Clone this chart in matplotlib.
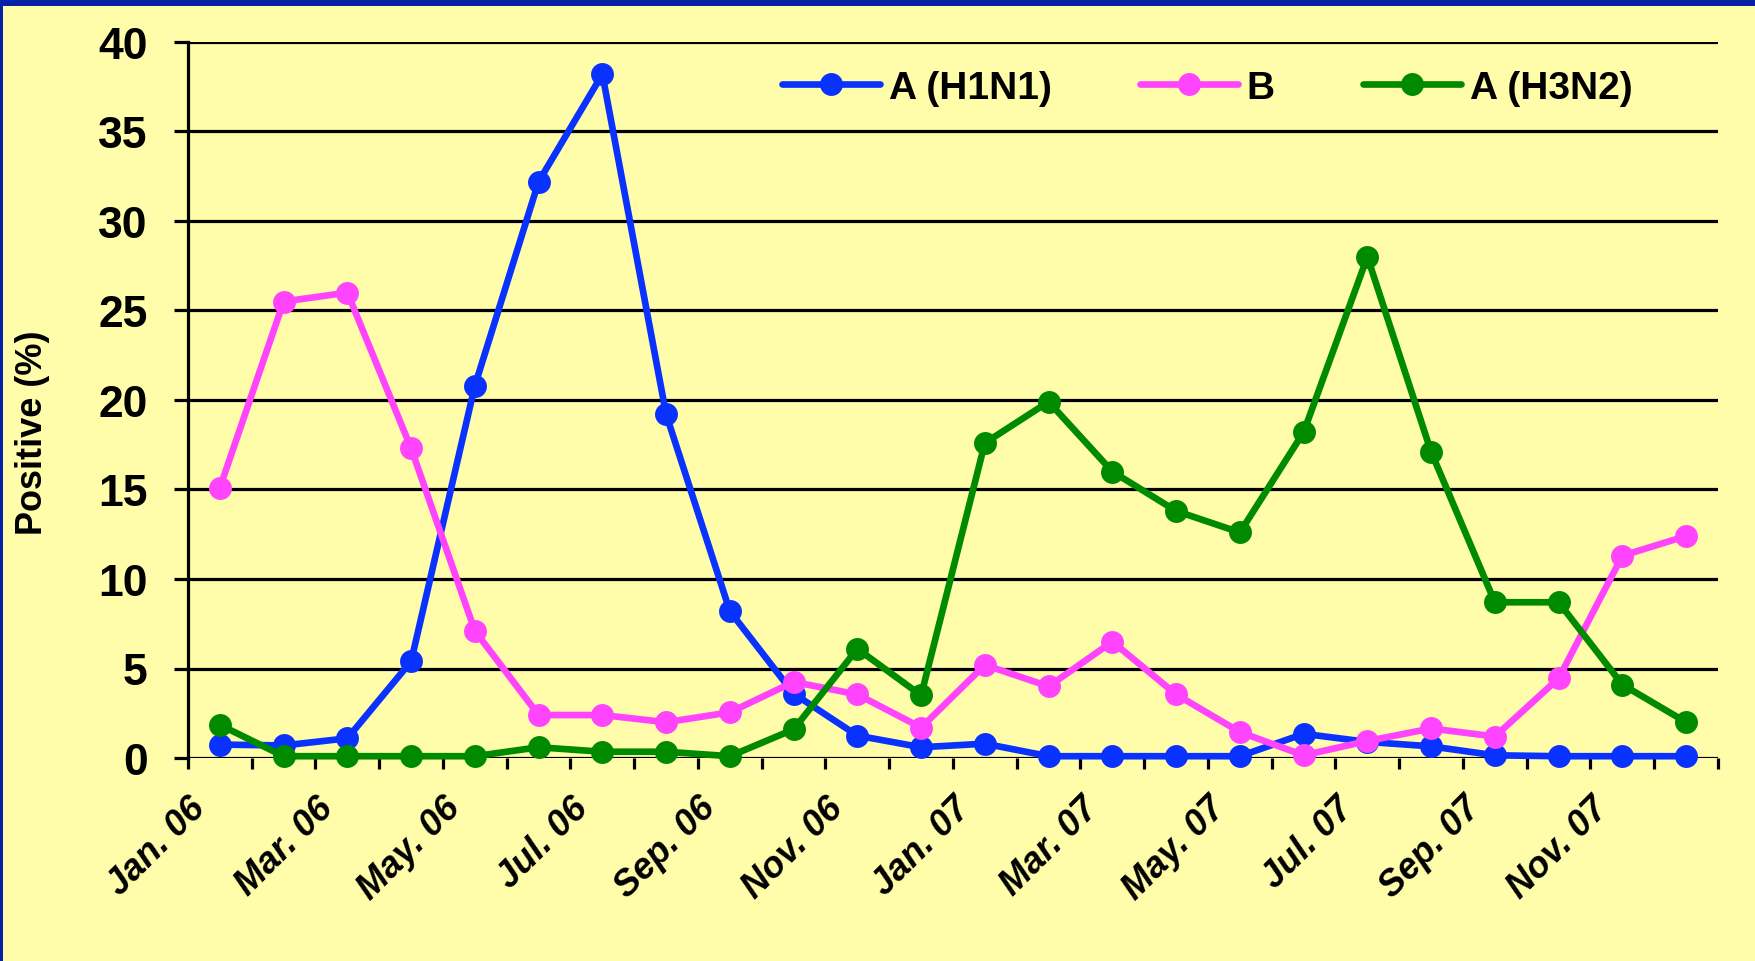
import matplotlib
matplotlib.use("Agg")
import matplotlib.pyplot as plt
from matplotlib.patches import Rectangle
import numpy as np

plt.rcParams['font.family'] = ['Liberation Sans', 'DejaVu Sans']

months = ["Jan. 06", "Feb. 06", "Mar. 06", "Apr. 06", "May. 06", "Jun. 06",
          "Jul. 06", "Aug. 06", "Sep. 06", "Oct. 06", "Nov. 06", "Dec. 06",
          "Jan. 07", "Feb. 07", "Mar. 07", "Apr. 07", "May. 07", "Jun. 07",
          "Jul. 07", "Aug. 07", "Sep. 07", "Oct. 07", "Nov. 07", "Dec. 07"]

h1n1 = [0.75, 0.7, 1.1, 5.4, 20.8, 32.2, 38.2, 19.2, 8.2, 3.6, 1.25, 0.6,
        0.8, 0.1, 0.1, 0.1, 0.1, 1.35, 0.9, 0.65, 0.15, 0.1, 0.1, 0.1]
b = [15.1, 25.5, 26.0, 17.3, 7.1, 2.4, 2.4, 2.0, 2.55, 4.25, 3.55, 1.7,
     5.2, 4.0, 6.5, 3.55, 1.45, 0.15, 0.95, 1.65, 1.2, 4.45, 11.3, 12.4]
h3n2 = [1.85, 0.1, 0.1, 0.1, 0.1, 0.6, 0.35, 0.35, 0.1, 1.6, 6.1, 3.5,
        17.6, 19.9, 16.0, 13.8, 12.6, 18.2, 28.0, 17.1, 8.7, 8.7, 4.1, 2.0]

series_names = ["A (H1N1)", "B", "A (H3N2)"]
series_colors = ["#0A32FF", "#FF44FF", "#008A00"]

yticks = [0, 5, 10, 15, 20, 25, 30, 35, 40]

W, H = 1756, 962
fig = plt.figure(figsize=(W / 100, H / 100), dpi=100)
bg = "#FFFCAA"
fig.patch.set_facecolor(bg)

# border bands
fig.patches.append(Rectangle((0, 1 - 7 / H), 1, 7 / H, transform=fig.transFigure,
                             facecolor="#0620A8", edgecolor="none", zorder=0))
fig.patches.append(Rectangle((0, 0), 2.5 / W, 1, transform=fig.transFigure,
                             facecolor="#0620A8", edgecolor="none", zorder=0))

left, right, top, bottom = 188, 1718, 43, 759
ax = fig.add_axes([left / W, 1 - bottom / H, (right - left) / W, (bottom - top) / H])
ax.set_facecolor(bg)

x = np.arange(len(months)) + 0.5
handles = []
for vals, name, col in zip([h1n1, b, h3n2], series_names, series_colors):
    ln, = ax.plot(x, vals, color=col, lw=4.8, marker='o', markersize=16.5,
                  markeredgewidth=0, label=name, clip_on=False, zorder=3,
                  solid_joinstyle='round', solid_capstyle='round')
    handles.append(ln)

ax.set_xlim(0, len(months))
ax.set_ylim(0, 40)
ax.set_yticks(yticks)
ax.set_yticklabels([str(v) for v in yticks], fontsize=32, fontweight='bold')
for v in yticks:
    ax.axhline(v, color='black', lw=2.3, zorder=1, solid_capstyle='butt')

ax.set_xticks(np.arange(0, len(months) + 1))
ax.set_xticklabels([months[i] if (i % 2 == 0 and i < len(months)) else ""
                    for i in range(len(months) + 1)],
                   fontsize=26, fontweight='bold', fontstyle='italic',
                   rotation=45, ha='right', va='top', rotation_mode='anchor')

for s in ['top', 'right', 'bottom']:
    ax.spines[s].set_visible(False)
ax.spines['left'].set_linewidth(2.3)
ax.spines['left'].set_color('black')

ax.tick_params(axis='y', length=10, width=2.3, pad=19, direction='out')
ax.tick_params(axis='x', length=8, width=2.3, pad=15, direction='out')

fig.text(33 / W, 1 - 433 / H, "Positive (%)", rotation=90, ha='center', va='center',
         fontsize=26, fontweight='bold')

fig.legend(handles=handles, labels=series_names, loc='center left',
           bbox_to_anchor=(782 / W, 1 - 89 / H), bbox_transform=fig.transFigure,
           ncol=3, frameon=False, handlelength=2.52, handletextpad=0.23,
           columnspacing=2.26, borderpad=0, borderaxespad=0,
           prop={'size': 28, 'weight': 'bold'})

fig.savefig("out.png", dpi=100, facecolor=bg)
